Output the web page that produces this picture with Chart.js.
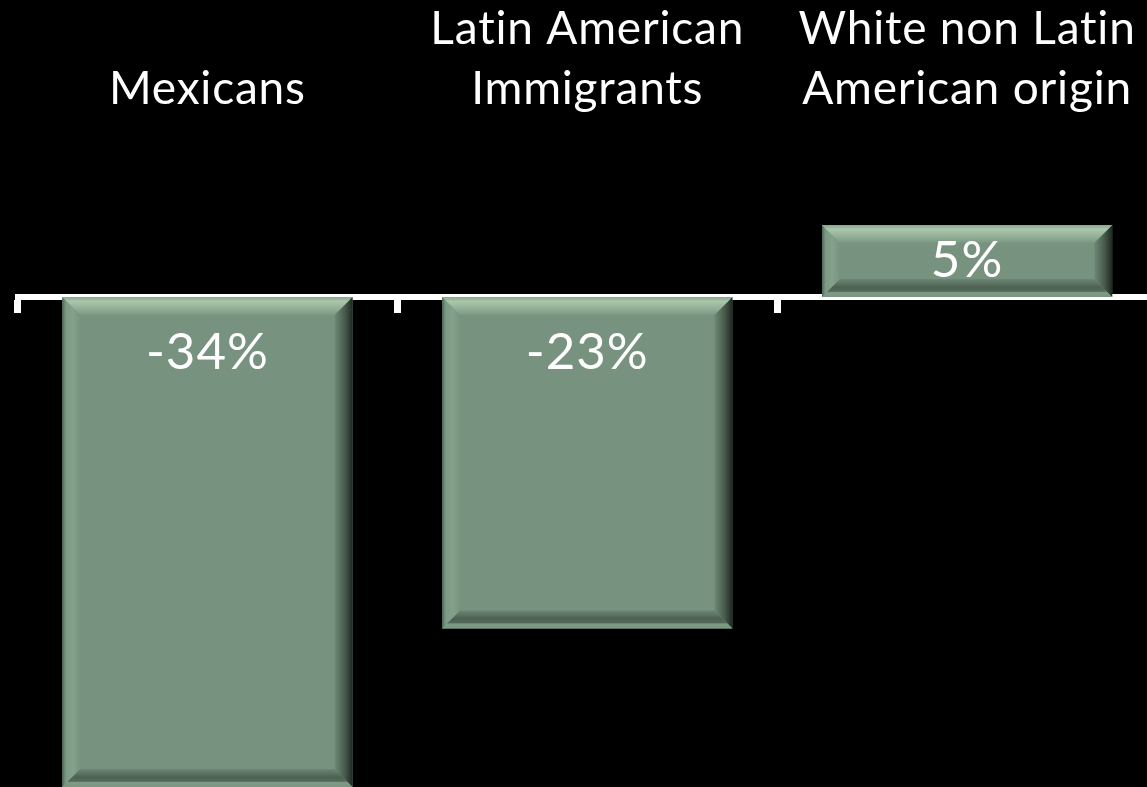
<!DOCTYPE html>
<html><head><meta charset="utf-8">
<script src="https://cdn.jsdelivr.net/npm/chart.js@4"></script>
<style>
html,body{margin:0;padding:0;background:#000;overflow:hidden;width:1147px;height:787px}
#wrap{position:absolute;left:0;top:0;width:1160px;height:787px}
</style></head>
<body><div id="wrap"><canvas id="c" width="1160" height="787"></canvas></div>
<script>
const categories = [["Mexicans"], ["Latin American", "Immigrants"], ["White non Latin", "American origin"]];
const values = [-34, -23, 5];
const valueLabels = ["-34%", "-23%", "5%"];
const yMin = -34, yMax = 11.94;

const FILL = '#77937f';

function poly(ctx, pts, fill) {
  ctx.beginPath();
  ctx.moveTo(pts[0][0], pts[0][1]);
  for (let i = 1; i < pts.length; i++) ctx.lineTo(pts[i][0], pts[i][1]);
  ctx.closePath();
  ctx.fillStyle = fill;
  ctx.fill();
}

const spacingPlugin = {
  id: 'spacing',
  beforeDraw(chart) {
    if ('letterSpacing' in chart.ctx) chart.ctx.letterSpacing = '0.8px';
  }
};

const bevelPlugin = {
  id: 'bevel',
  afterDatasetsDraw(chart) {
    const ctx = chart.ctx;
    const meta = chart.getDatasetMeta(0);
    ctx.save();
    meta.data.forEach(el => {
      const p = el.getProps(['x', 'y', 'base', 'width'], true);
      const L = p.x - p.width / 2, R = p.x + p.width / 2;
      const T = Math.min(p.y, p.base), B = Math.max(p.y, p.base);
      const b = Math.min(18, (B - T) / 2);
      let g;
      // left
      g = ctx.createLinearGradient(L, 0, L + b, 0);
      g.addColorStop(0, '#4f6756'); g.addColorStop(0.2, '#7d9a85'); g.addColorStop(0.6, '#84a18b'); g.addColorStop(1, FILL);
      poly(ctx, [[L, T], [L + b, T + b], [L + b, B - b], [L, B]], g);
      // right
      g = ctx.createLinearGradient(R - b, 0, R, 0);
      g.addColorStop(0, '#6f8a77'); g.addColorStop(0.6, '#45574a'); g.addColorStop(1, '#1f2822');
      poly(ctx, [[R, T], [R, B], [R - b, B - b], [R - b, T + b]], g);
      // top
      g = ctx.createLinearGradient(0, T, 0, T + b);
      g.addColorStop(0, '#8aa88f'); g.addColorStop(0.25, '#aac6ab'); g.addColorStop(0.55, '#98b59c'); g.addColorStop(1, '#7b9883');
      poly(ctx, [[L, T], [R, T], [R - b, T + b], [L + b, T + b]], g);
      // bottom
      g = ctx.createLinearGradient(0, B - b, 0, B);
      g.addColorStop(0, '#6c8773'); g.addColorStop(0.45, '#4d6153'); g.addColorStop(0.68, '#55695a'); g.addColorStop(0.75, '#7d9a84'); g.addColorStop(1, '#7a9681');
      poly(ctx, [[L, B], [L + b, B - b], [R - b, B - b], [R, B]], g);
    });
    ctx.restore();
  }
};

const labelPlugin = {
  id: 'vlabels',
  afterDatasetsDraw(chart) {
    const ctx = chart.ctx;
    const meta = chart.getDatasetMeta(0);
    ctx.save();
    if ('letterSpacing' in ctx) ctx.letterSpacing = '1px';
    ctx.fillStyle = '#ffffff';
    ctx.font = '51px Lato';
    ctx.textAlign = 'center';
    ctx.textBaseline = 'middle';
    meta.data.forEach((el, i) => {
      const p = el.getProps(['x', 'y', 'base'], true);
      const h = Math.abs(p.y - p.base);
      const dir = p.y > p.base ? 1 : -1;
      const cy = p.base + dir * Math.min(55, h / 2);
      ctx.fillText(valueLabels[i], p.x, cy);
    });
    ctx.restore();
  }
};

new Chart(document.getElementById('c'), {
  type: 'bar',
  data: {
    labels: categories,
    datasets: [{
      data: values,
      backgroundColor: FILL,
      borderWidth: 0,
      barPercentage: 0.764,
      categoryPercentage: 1,
      xAxisID: 'x',
      yAxisID: 'y'
    }]
  },
  options: {
    responsive: false,
    animation: false,
    devicePixelRatio: 1,
    layout: { padding: { left: 17.5, right: 3, top: 0, bottom: 0 } },
    plugins: { legend: { display: false }, tooltip: { enabled: false } },
    scales: {
      x: {
        position: 'top',
        grid: { display: false, drawTicks: false, tickLength: 0 },
        border: { display: false },
        ticks: { color: '#ffffff', font: { family: 'Lato', size: 46, lineHeight: 1.3 }, padding: 6, maxRotation: 0, minRotation: 0, autoSkip: false },
        afterFit(s) { s.height = 125; }
      },
      x2: {
        type: 'category',
        axis: 'x',
        position: { y: 0 },
        z: 1,
        grid: { offset: true, drawOnChartArea: false, drawTicks: true, tickLength: 13, lineWidth: 7, color: '#ffffff' },
        border: { display: true, color: '#ffffff', width: 6 },
        ticks: { display: false }
      },
      y: { display: false, min: yMin, max: yMax }
    }
  },
  plugins: [spacingPlugin, bevelPlugin, labelPlugin]
});
</script>
</body></html>
